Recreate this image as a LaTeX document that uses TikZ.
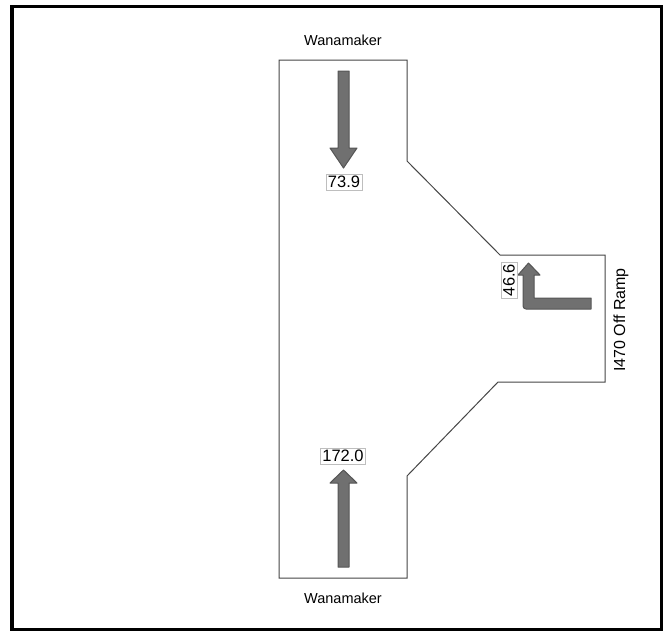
\documentclass[tikz,border=0pt]{standalone}
\usepackage{fontspec}
\setmainfont{Liberation Sans}
\definecolor{arrowfill}{RGB}{112,112,112}
\definecolor{arrowline}{RGB}{85,85,85}
\definecolor{boxline}{RGB}{190,190,190}
\definecolor{outline}{RGB}{70,70,70}
\begin{document}
\begin{tikzpicture}[x=1pt,y=-1pt,
  flowarrow/.style={fill=arrowfill,draw=arrowline,line width=1pt,line join=round},
  valbox/.style={draw=boxline,fill=white,line width=0.6pt,inner xsep=2pt,inner ysep=2pt,font=\fontsize{16.5}{18}\selectfont},
  streetlabel/.style={font=\fontsize{14.5}{16}\selectfont}]
\useasboundingbox (0,0) rectangle (668,632);
\fill[white] (0,0) rectangle (668,632);
\draw[line width=3.5pt] (12,6.5) rectangle (661.5,629.5);
% intersection outline
\draw[outline,line width=1pt] (279,60) -- (407,60) -- (407,161) -- (500,255) -- (605,255) -- (605,382) -- (498,382) -- (407,476) -- (407,578) -- (279,578) -- cycle;
% arrows
\draw[flowarrow] (338,71) -- (349,71) -- (349,148) -- (357,148) -- (343.5,168) -- (330,148) -- (338,148) -- cycle;
\draw[flowarrow] (338,567) -- (349,567) -- (349,483) -- (357,483) -- (343.5,470) -- (330,483) -- (338,483) -- cycle;
\draw[flowarrow] (591,298) -- (591,309) -- (526,309) to[out=180,in=-90] (523,306) -- (523,275) -- (518,275) -- (528.5,263) -- (540,275) -- (534,275) -- (534,298) -- cycle;
% labels
\node[valbox] (v1) at (344,182) {73.9};
\node[valbox] (v2) at (343,456) {172.0};
\node[valbox,rotate=90] (v3) at (509,280) {46.6};
\node[streetlabel] (n) at (343,40) {Wanamaker};
\node[streetlabel] (s) at (343,598) {Wanamaker};
\node[streetlabel,font=\fontsize{16}{18}\selectfont,rotate=90] (e) at (621,320) {I470 Off Ramp};
\end{tikzpicture}
\end{document}
